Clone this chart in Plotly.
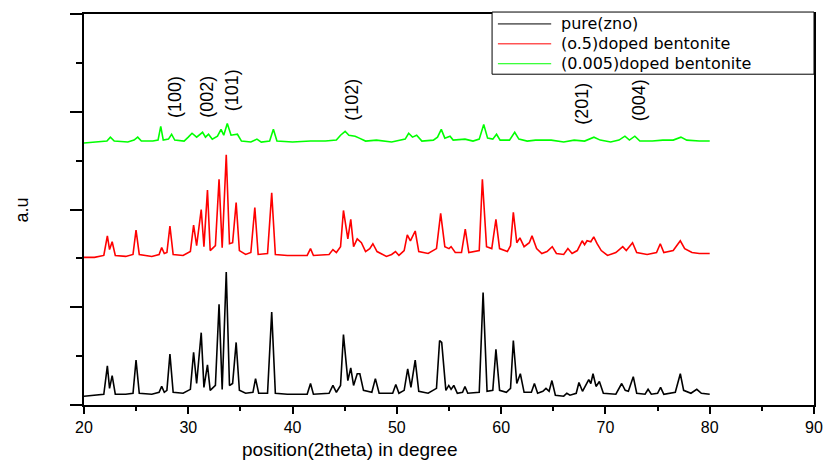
import plotly.graph_objects as go

# ---------------- data ----------------
pure_x = [20.0, 21.0, 21.9, 22.24, 22.45, 22.7, 23.0, 24.0, 24.7, 24.99, 25.3, 26.5, 27.2, 27.45, 27.7, 27.95,
          28.24, 28.55, 29.5, 30.2, 30.51, 30.8, 31.24, 31.5, 31.84, 32.1, 32.6, 32.95, 33.25, 33.64, 33.95,
          34.25, 34.59, 34.9, 35.5, 36.2, 36.45, 36.75, 37.6, 38.0, 38.35, 39.5, 41.4, 41.72, 42.0, 43.5,
          43.87, 44.2, 44.6, 44.88, 45.3, 45.58, 45.85, 46.2, 46.45, 46.8, 47.6, 47.94, 48.3, 49.6, 49.9,
          50.2, 50.7, 51.04, 51.35, 51.76, 52.1, 53.0, 53.8, 54.1, 54.3, 54.7, 54.98, 55.2, 55.46, 55.8,
          56.3, 56.53, 56.8, 57.9, 58.27, 58.65, 59.2, 59.5, 59.85, 60.5, 60.9, 61.17, 61.5, 61.84, 62.2,
          62.9, 63.19, 63.5, 64.0, 64.3, 64.6, 64.87, 65.2, 66.0, 66.3, 66.6, 67.2, 67.46, 67.8, 68.4,
          68.6, 68.81, 69.1, 69.42, 69.8, 71.0, 71.56, 71.9, 72.2, 72.67, 73.0, 73.8, 74.09, 74.4, 75.0,
          75.29, 75.6, 76.7, 77.18, 77.5, 78.2, 78.76, 79.2, 80.0]
pure_y = [0.09, 0.10, 0.11, 0.40, 0.17, 0.30, 0.11, 0.11, 0.12, 0.46, 0.12, 0.11, 0.13, 0.19, 0.13, 0.15,
          0.52, 0.13, 0.12, 0.16, 0.54, 0.22, 0.74, 0.18, 0.41, 0.15, 0.20, 1.03, 0.16, 1.36, 0.20,
          0.22, 0.64, 0.15, 0.12, 0.13, 0.27, 0.12, 0.12, 0.95, 0.12, 0.11, 0.11, 0.22, 0.11, 0.12,
          0.20, 0.13, 0.20, 0.72, 0.25, 0.38, 0.20, 0.32, 0.32, 0.15, 0.13, 0.27, 0.12, 0.12, 0.21,
          0.12, 0.15, 0.37, 0.18, 0.46, 0.14, 0.12, 0.17, 0.66, 0.64, 0.15, 0.20, 0.16, 0.20, 0.12,
          0.13, 0.19, 0.12, 0.13, 1.15, 0.14, 0.15, 0.57, 0.15, 0.13, 0.17, 0.66, 0.22, 0.32, 0.13,
          0.13, 0.22, 0.12, 0.14, 0.17, 0.14, 0.25, 0.10, 0.09, 0.12, 0.10, 0.12, 0.23, 0.14, 0.26,
          0.22, 0.32, 0.19, 0.24, 0.12, 0.11, 0.22, 0.15, 0.14, 0.29, 0.12, 0.11, 0.16, 0.11, 0.12,
          0.18, 0.11, 0.13, 0.32, 0.15, 0.12, 0.16, 0.12, 0.11]

doped05_x = [20.0, 21.0, 21.9, 22.24, 22.45, 22.7, 23.0, 24.0, 24.7, 24.99, 25.3, 26.5, 27.2, 27.45, 27.7,
             27.95, 28.24, 28.55, 29.5, 30.2, 30.51, 30.8, 31.24, 31.5, 31.84, 32.1, 32.6, 32.95, 33.25,
             33.64, 33.95, 34.25, 34.59, 34.9, 35.5, 36.0, 36.38, 36.7, 37.6, 38.0, 38.35, 39.5, 41.4,
             41.72, 42.0, 43.5, 43.87, 44.2, 44.6, 44.88, 45.3, 45.58, 45.85, 46.2, 46.6, 47.0, 47.4,
             47.7, 48.1, 49.0, 49.5, 49.87, 50.2, 50.7, 51.0, 51.3, 51.76, 52.1, 53.0, 53.8, 54.2, 54.6,
             55.0, 55.2, 55.6, 56.2, 56.56, 56.9, 57.9, 58.2, 58.6, 59.1, 59.5, 59.85, 60.6, 60.9, 61.17,
             61.5, 61.8, 62.2, 62.7, 62.96, 63.4, 63.9, 64.4, 64.9, 65.3, 66.0, 66.4, 66.8, 67.3, 67.77,
             68.0, 68.24, 68.6, 68.88, 69.2, 69.6, 70.2, 71.0, 71.66, 72.0, 72.6, 73.0, 74.0, 74.9,
             75.26, 75.6, 76.5, 77.18, 77.6, 78.3, 79.0, 80.0]
doped05_y = [1.51, 1.51, 1.53, 1.73, 1.59, 1.67, 1.53, 1.52, 1.54, 1.79, 1.54, 1.52, 1.54, 1.61, 1.55,
             1.56, 1.83, 1.54, 1.53, 1.57, 1.84, 1.63, 2.00, 1.62, 2.20, 1.58, 1.63, 2.31, 1.61,
             2.56, 1.65, 1.66, 2.07, 1.58, 1.54, 1.56, 2.02, 1.54, 1.55, 2.17, 1.54, 1.53, 1.53,
             1.60, 1.53, 1.54, 1.59, 1.56, 1.62, 1.99, 1.70, 1.90, 1.62, 1.70, 1.66, 1.57, 1.60,
             1.65, 1.57, 1.52, 1.54, 1.57, 1.53, 1.58, 1.74, 1.68, 1.78, 1.57, 1.55, 1.60, 1.96, 1.62,
             1.60, 1.62, 1.56, 1.56, 1.80, 1.56, 1.58, 2.31, 1.62, 1.60, 1.90, 1.60, 1.57, 1.63, 1.97,
             1.66, 1.71, 1.62, 1.66, 1.73, 1.60, 1.55, 1.57, 1.62, 1.55, 1.54, 1.60, 1.55, 1.58, 1.68,
             1.64, 1.68, 1.67, 1.72, 1.65, 1.58, 1.53, 1.56, 1.62, 1.58, 1.66, 1.56, 1.54, 1.56,
             1.65, 1.56, 1.58, 1.68, 1.60, 1.56, 1.55, 1.55]

doped0005_x = [20.0, 21.5, 22.2, 22.53, 22.9, 24.2, 24.8, 25.15, 25.5, 26.6, 27.1, 27.36, 27.6, 28.1, 28.4,
               28.7, 29.6, 30.0, 30.36, 30.8, 31.37, 31.65, 31.94, 32.3, 32.8, 33.14, 33.4, 33.74, 34.1,
               34.71, 35.1, 36.0, 36.58, 37.0, 37.8, 38.16, 38.5, 40.0, 41.72, 43.14, 44.2, 44.6, 45.04,
               45.4, 46.0, 46.4, 47.0, 48.04, 49.5, 50.8, 51.13, 51.5, 51.9, 52.4, 53.5, 53.9, 54.26,
               54.6, 55.1, 55.4, 56.53, 57.3, 57.9, 58.33, 58.7, 59.2, 59.56, 59.9, 60.8, 61.3, 61.7,
               62.5, 63.3, 64.8, 66.0, 67.0, 68.0, 68.9, 69.5, 70.5, 71.3, 71.87, 72.3, 72.82, 73.3,
               74.5, 75.5, 76.5, 77.24, 77.8, 79.0, 80.0]
doped0005_y = [2.68, 2.69, 2.70, 2.74, 2.70, 2.69, 2.71, 2.74, 2.70, 2.70, 2.71, 2.85, 2.71, 2.72, 2.77,
               2.71, 2.70, 2.74, 2.78, 2.74, 2.79, 2.74, 2.77, 2.72, 2.75, 2.82, 2.76, 2.88, 2.76,
               2.77, 2.70, 2.69, 2.72, 2.69, 2.70, 2.82, 2.70, 2.69, 2.70, 2.70, 2.71, 2.76, 2.80,
               2.76, 2.75, 2.73, 2.70, 2.71, 2.69, 2.72, 2.78, 2.74, 2.76, 2.70, 2.71, 2.74, 2.82,
               2.73, 2.75, 2.71, 2.72, 2.70, 2.72, 2.87, 2.73, 2.72, 2.77, 2.71, 2.71, 2.79, 2.72,
               2.70, 2.71, 2.71, 2.69, 2.71, 2.70, 2.74, 2.71, 2.69, 2.71, 2.75, 2.71, 2.75, 2.70,
               2.70, 2.71, 2.71, 2.74, 2.71, 2.70, 2.70]

series_names = ["pure(zno)", "(o.5)doped bentonite", "(0.005)doped bentonite"]
series_colors = ["#000000", "#ff0000", "#00ff00"]

hkl_labels = ["(100)", "(002)", "(101)", "(102)", "(201)", "(004)"]
hkl_x = [28.71, 31.77, 34.2, 45.67, 67.74, 73.24]
hkl_y = [3.15, 3.15, 3.22, 3.12, 3.08, 3.12]

x_title = "position(2theta) in degree"
y_title = "a.u"

# ---------------- figure ----------------
FONT = "Liberation Sans, Arial, sans-serif"
LEG_FONT = "DejaVu Sans, Verdana, sans-serif"
fig = go.Figure()
for xs, ys, name, col in zip([pure_x, doped05_x, doped0005_x], [pure_y, doped05_y, doped0005_y],
                             series_names, series_colors):
    fig.add_trace(go.Scatter(x=xs, y=ys, mode="lines", name=name, showlegend=False,
                             line=dict(color=col, width=1.6)))

for lab, hx, hy in zip(hkl_labels, hkl_x, hkl_y):
    fig.add_annotation(x=hx, y=hy, xref="x", yref="y", text=lab, textangle=-90,
                       showarrow=False, xanchor="center", yanchor="middle",
                       font=dict(family=FONT, size=18, color="black"))

fig.add_annotation(x=45.5, y=-0.115, xref="x", yref="paper", text=x_title, showarrow=False,
                   xanchor="center", yanchor="middle",
                   font=dict(family=FONT, size=19, color="black"))
fig.add_annotation(x=-0.085, y=0.5, xref="paper", yref="paper", text=y_title, textangle=-90,
                   showarrow=False, xanchor="center", yanchor="middle",
                   font=dict(family=FONT, size=18, color="black"))

# legend box (drawn in paper coordinates, top-right corner of the frame)
box_x0, box_x1, box_y0, box_y1 = 0.559, 1.0, 0.846, 1.005
row_y = [0.9746, 0.9237, 0.8728]
fig.add_shape(type="rect", xref="paper", yref="paper", x0=box_x0, x1=box_x1, y0=box_y0, y1=box_y1,
              line=dict(color="black", width=1), fillcolor="white", layer="above")
for name, col, ry in zip(series_names, series_colors, row_y):
    fig.add_shape(type="line", xref="paper", yref="paper", x0=0.567, x1=0.640, y0=ry, y1=ry,
                  line=dict(color=col, width=1), layer="above")
    fig.add_annotation(x=0.652, y=ry, xref="paper", yref="paper", text=name, showarrow=False,
                       xanchor="left", yanchor="middle", borderpad=0,
                       font=dict(family=LEG_FONT, size=16, color="black"))

axis_common = dict(showgrid=False, zeroline=False, showline=True, linecolor="black", linewidth=1.5,
                   mirror=True, ticks="outside", tickcolor="black", tickwidth=1.5)
fig.update_xaxes(range=[20, 90], tick0=20, dtick=10, ticklen=7,
                 tickfont=dict(family=FONT, size=16, color="black"),
                 minor=dict(dtick=5, ticklen=4, ticks="outside", tickcolor="black", tickwidth=1.5),
                 **axis_common)
fig.update_yaxes(range=[0, 4], tick0=0, dtick=1, ticklen=12, showticklabels=False,
                 minor=dict(dtick=0.5, ticklen=6, ticks="outside", tickcolor="black", tickwidth=1.5),
                 **axis_common)

fig.update_layout(
    width=835, height=464,
    margin=dict(l=84, r=12, t=12, b=59),
    paper_bgcolor="white", plot_bgcolor="white",
    font=dict(family=FONT, color="black"),
    showlegend=False,
)

fig.write_html("out.html")
